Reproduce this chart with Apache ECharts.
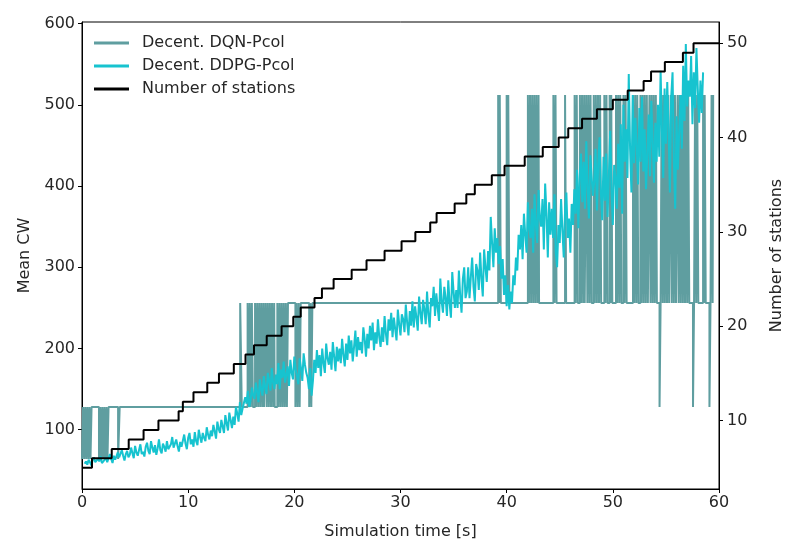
<!DOCTYPE html>
<html>
<head>
<meta charset="utf-8">
<script src="https://cdn.jsdelivr.net/npm/echarts@6/dist/echarts.min.js"></script>
<style>html,body{margin:0;padding:0;background:#fff;}#c{width:785px;height:539px;}</style>
</head>
<body>
<div id="c"></div>
<script>
// ---- data ----
var xTicks = [0, 10, 20, 30, 40, 50, 60];
var cwTicks = [100, 200, 300, 400, 500, 600];
var stationTicks = [10, 20, 30, 40, 50];

// Number of stations (value holds from given time)
var stationTimes = [0, 0.94, 2.8, 4.4, 5.8, 7.2, 9.1, 9.5, 10.5, 11.8, 12.9, 14.3, 15.4, 16.2, 17.4, 18.8, 19.9, 20.6, 21.9, 22.6, 23.7, 25.4, 26.8, 28.5, 30.1, 31.4, 32.8, 33.4, 35.1, 36.2, 37.0, 38.6, 39.8, 41.7, 43.4, 44.9, 45.8, 47.1, 48.5, 50.0, 51.4, 52.9, 53.6, 54.9, 56.6, 57.6, 60];
var stationCounts = [5, 6, 7, 8, 9, 10, 11, 12, 13, 14, 15, 16, 17, 18, 19, 20, 21, 22, 23, 24, 25, 26, 27, 28, 29, 30, 31, 32, 33, 34, 35, 36, 37, 38, 39, 40, 41, 42, 43, 44, 45, 46, 47, 48, 49, 50, 50];

// Decent. DQN-Pcol: [time, CW] (value holds from given time)
var dqnPoints = [
[0,64],[0.1,128],[0.2,64],[0.3,128],[0.4,64],[0.5,128],[0.6,64],[0.7,128],[0.8,64],[0.9,128],
[1.6,64],[1.7,128],[1.8,64],[1.9,128],[2.0,64],[2.1,128],[2.2,64],[2.3,128],[2.4,64],[2.5,128],
[3.4,64],[3.55,128],
[14.9,256],[15.05,128],
[15.6,256],[15.7,128],[15.8,256],[15.9,128],[16.0,256],[16.1,128],
[16.3,256],[16.4,128],[16.5,256],[16.6,128],[16.7,256],[16.8,128],[16.9,256],[17.0,128],[17.1,256],[17.15,128],
[17.3,256],[17.4,128],[17.5,256],[17.6,128],[17.7,256],[17.8,128],[17.9,256],[18.0,128],[18.1,256],[18.15,128],
[18.4,256],[18.5,128],[18.6,256],[18.7,128],[18.8,256],[18.9,128],[19.0,256],[19.1,128],[19.2,256],[19.3,128],[19.4,256],
[20.1,128],[20.2,256],[20.3,128],[20.4,256],[20.5,128],[20.6,256],[21.4,128],[21.5,256],[21.6,128],[21.7,256],
[39.2,512],[39.3,256],[39.35,512],[39.45,256],[40.0,512],[40.1,256],[40.15,512],[40.25,256],
[42.0,512],[42.1,256],[42.2,512],[42.3,256],[42.4,512],[42.5,256],[42.6,512],[42.7,256],[42.8,512],[42.9,256],[43.0,512],[43.05,256],
[44.4,512],[44.5,256],[44.6,512],[44.7,256],
[45.5,512],[45.6,256],
[46.4,512],[46.5,256],[46.6,512],[46.7,256],
[46.9,512],[47.0,256],[47.1,512],[47.2,256],[47.3,512],[47.35,256],
[47.5,512],[47.6,256],[47.7,512],[47.8,256],[47.9,512],[48.0,256],
[48.2,512],[48.3,256],[48.4,512],[48.5,256],[48.6,512],[48.7,256],[48.8,512],[48.9,256],
[49.2,512],[49.3,256],[49.4,512],[49.5,256],[49.7,512],[49.8,256],[49.85,512],[49.95,256],
[50.3,512],[50.4,256],[50.5,512],[50.6,256],[50.7,512],[50.8,256],[51.0,512],[51.1,256],[51.2,512],[51.3,256],
[51.9,512],[52.0,256],[52.1,512],[52.2,256],[52.3,512],[52.4,256],
[52.6,512],[52.7,256],[52.8,512],[52.9,256],[53.0,512],[53.1,256],[53.2,512],[53.3,256],
[53.45,512],[53.55,256],[53.65,512],[53.75,256],[53.85,512],[53.95,256],[54.05,512],[54.15,256],
[54.4,128],[54.5,256],[54.6,512],[54.7,256],[54.8,512],[54.9,256],[55.0,512],[55.1,256],[55.2,512],[55.3,256],
[55.45,512],[55.55,256],[55.65,512],[55.75,256],[55.85,512],[55.95,256],
[56.1,512],[56.2,256],[56.3,512],[56.4,256],[56.5,512],[56.6,256],[56.7,512],[56.8,256],[56.9,512],[57.0,256],[57.1,512],[57.2,256],
[57.55,128],[57.65,256],[57.75,512],[57.85,256],[57.95,512],[58.05,256],
[58.5,512],[58.6,256],[58.65,512],[58.75,256],
[59.1,128],[59.2,256],[59.3,512],[59.4,256],[59.45,512],[59.5,512]
];

// Decent. DDPG-Pcol: sampled every 0.125 s starting at 0.25 s (one row = 1 s)
var ddpgStart = 0.25, ddpgStep = 0.125;
var ddpgValues = [
58, 61, 57, 63, 60, 56, 62, 66,
60, 58, 64, 61, 67, 59, 57, 63,
66, 60, 62, 70, 64, 59, 68, 63,
61, 72, 66, 64, 75, 68, 62, 70,
74, 66, 69, 78, 71, 65, 80, 72,
68, 75, 82, 70, 73, 67, 79, 84,
74, 70, 86, 78, 72, 81, 69, 77,
88, 75, 71, 83, 79, 73, 86, 76,
74, 82, 91, 78, 76, 88, 80, 73,
85, 79, 77, 94, 83, 76, 90, 96,
82, 88, 79, 97, 86, 81, 100, 91,
84, 96, 90, 86, 103, 94, 88, 99,
92, 106, 98, 89, 110, 101, 96, 112,
104, 96, 118, 108, 99, 121, 112, 102,
116, 106, 128, 120, 110, 134, 118, 126,
124, 140, 132, 148, 128, 136, 152, 142,
138, 158, 146, 134, 162, 150, 142, 166,
152, 144, 170, 160, 148, 176, 158, 150,
168, 156, 182, 150, 174, 164, 184, 158,
160, 178, 154, 186, 170, 162, 190, 174,
166, 156, 188, 176, 160, 194, 180, 170,
164, 150, 176, 142, 160, 186, 170, 198,
176, 192, 166, 200, 182, 170, 206, 188,
180, 196, 174, 208, 190, 172, 202, 184,
200, 182, 212, 192, 178, 206, 186, 216,
194, 210, 184, 202, 222, 190, 214, 198,
208, 194, 226, 212, 190, 218, 200, 228,
210, 232, 198, 220, 206, 236, 214, 202,
226, 208, 240, 218, 204, 236, 222, 244,
214, 238, 224, 210, 248, 230, 216, 242,
236, 220, 254, 232, 216, 246, 228, 258,
226, 252, 238, 222, 264, 244, 230, 260,
248, 230, 270, 242, 226, 262, 252, 276,
240, 268, 250, 234, 286, 258, 244, 276,
262, 240, 284, 256, 238, 294, 270, 250,
272, 250, 296, 264, 244, 286, 300, 262,
270, 300, 262, 288, 312, 276, 258, 304,
296, 272, 318, 286, 264, 322, 300, 282,
320, 296, 362, 330, 300, 348, 318, 336,
304, 326, 286, 310, 266, 290, 252, 278,
248, 270, 256, 290, 278, 312, 296, 340,
322, 352, 310, 366, 340, 318, 380, 348,
336, 372, 318, 390, 352, 330, 395, 360,
350, 384, 322, 403, 366, 312, 380, 340,
372, 336, 390, 318, 300, 352, 330, 384,
346, 312, 370, 392, 336, 360, 318, 378,
352, 396, 366, 420, 348, 410, 440, 380,
430, 372, 455, 398, 360, 438, 412, 388,
406, 446, 370, 428, 460, 392, 358, 436,
382, 440, 362, 412, 468, 396, 352, 426,
410, 372, 452, 398, 476, 366, 500, 430,
470, 410, 538, 446, 392, 512, 428, 484,
450, 402, 496, 430, 510, 418, 470, 396,
440, 488, 412, 505, 456, 404, 478, 430,
500, 436, 542, 468, 410, 520, 452, 528,
470, 392, 510, 540, 430, 372, 486, 420,
466, 512, 446, 548, 480, 575, 498, 530,
510, 560, 476, 540, 496, 570, 520, 478,
530, 490, 540
];

// ---- build ----
var stationData = stationTimes.map(function (t, i) { return [t, stationCounts[i]]; });
var ddpgData = ddpgValues.map(function (v, i) { return [ddpgStart + i * ddpgStep, v]; });

var FONT = 'DejaVu Sans';
var FS = 16;
var TXT = '#262626';
var chart = echarts.init(document.getElementById('c'), null, { renderer: 'canvas' });
chart.setOption({
  animation: false,
  backgroundColor: '#fff',
  textStyle: { fontFamily: FONT },
  grid: { left: 82, right: 66, top: 22, bottom: 50, containLabel: false, outerBoundsMode: 'none', show: true, borderColor: '#000', borderWidth: 1, backgroundColor: 'transparent' },
  legend: {
    orient: 'vertical', left: 89, top: 30, itemWidth: 35, itemHeight: 3, itemGap: 7,
    icon: 'rect',
    textStyle: { fontFamily: FONT, fontSize: FS, color: TXT, padding: [0, 0, 0, 8] },
    data: ['Decent. DQN-Pcol', 'Decent. DDPG-Pcol', 'Number of stations']
  },
  xAxis: {
    type: 'value', min: 0, max: 60, interval: 10,
    name: 'Simulation time [s]', nameLocation: 'middle', nameGap: 35,
    nameTextStyle: { fontFamily: FONT, fontSize: FS, color: TXT },
    axisLine: { show: true, onZero: false, lineStyle: { color: '#000', width: 1 } },
    axisTick: { show: true, inside: false, length: 4, lineStyle: { color: '#000' } },
    axisLabel: { fontFamily: FONT, fontSize: FS, color: TXT, margin: 6 },
    splitLine: { show: false }
  },
  yAxis: [{
    type: 'value', min: 27, max: 602, position: 'left',
    name: 'Mean CW', nameLocation: 'middle', nameGap: 49, nameRotate: 90,
    nameTextStyle: { fontFamily: FONT, fontSize: FS, color: TXT },
    axisLine: { show: true, lineStyle: { color: '#000', width: 1 } },
    axisTick: { show: true, length: 4, customValues: cwTicks, lineStyle: { color: '#000' } },
    axisLabel: { fontFamily: FONT, fontSize: FS, color: TXT, margin: 7, customValues: cwTicks },
    splitLine: { show: false }
  }, {
    type: 'value', min: 2.75, max: 52.25, position: 'right',
    name: 'Number of stations', nameLocation: 'middle', nameGap: 50, nameRotate: 90,
    nameTextStyle: { fontFamily: FONT, fontSize: FS, color: TXT },
    axisLine: { show: true, lineStyle: { color: '#000', width: 1 } },
    axisTick: { show: true, length: 4, customValues: stationTicks, lineStyle: { color: '#000' } },
    axisLabel: { fontFamily: FONT, fontSize: FS, color: TXT, margin: 8, customValues: stationTicks },
    splitLine: { show: false }
  }],
  series: [{
    name: 'Decent. DQN-Pcol', type: 'line', step: 'end', yAxisIndex: 0,
    data: dqnPoints, showSymbol: false, symbol: 'none',
    itemStyle: { color: '#5f9ea0' },
    lineStyle: { color: '#5f9ea0', width: 2 }, z: 2
  }, {
    name: 'Decent. DDPG-Pcol', type: 'line', yAxisIndex: 0,
    data: ddpgData, showSymbol: false, symbol: 'none',
    itemStyle: { color: '#17c3cf' },
    lineStyle: { color: '#17c3cf', width: 2 }, z: 3
  }, {
    name: 'Number of stations', type: 'line', step: 'end', yAxisIndex: 1,
    data: stationData, showSymbol: false, symbol: 'none',
    itemStyle: { color: '#000' },
    lineStyle: { color: '#000', width: 2 }, z: 4
  }]
});
</script>
</body>
</html>
